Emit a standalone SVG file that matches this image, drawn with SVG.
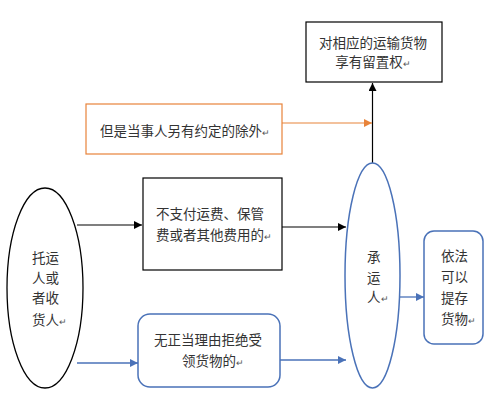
<svg xmlns="http://www.w3.org/2000/svg" width="496" height="400" viewBox="0 0 496 400">
<style>
text{font-family:"Noto Sans CJK SC","Noto Sans",sans-serif;font-size:13.5px;fill:#333}
.pm{font-size:9px;fill:#555}
.blk{fill:#fff;stroke:#000;stroke-width:1.2}
.blu{fill:#fff;stroke:#4A72B8;stroke-width:1.5}
.org{fill:#fff;stroke:#E8833A;stroke-width:1.2}
.lk{stroke:#000;stroke-width:1.2;fill:none}
.lb{stroke:#4A72B8;stroke-width:1.3;fill:none}
.lo{stroke:#E8833A;stroke-width:1.2;fill:none}
</style>
<defs>
<marker id="ak" markerWidth="8" markerHeight="8" refX="8" refY="4" orient="auto" markerUnits="userSpaceOnUse"><path d="M0,0L8,4L0,8z" fill="#000"/></marker>
<marker id="ab" markerWidth="8" markerHeight="8" refX="8" refY="4" orient="auto" markerUnits="userSpaceOnUse"><path d="M0,0L8,4L0,8z" fill="#4A72B8"/></marker>
<marker id="ao" markerWidth="8" markerHeight="8" refX="8" refY="4" orient="auto" markerUnits="userSpaceOnUse"><path d="M0,0L8,4L0,8z" fill="#E8833A"/></marker>
</defs>
<rect width="496" height="400" fill="#fff"/>
<g id="connectors">
<line class="lk" x1="372.5" y1="163" x2="372.5" y2="83" marker-end="url(#ak)"/>
<line class="lo" x1="282" y1="123" x2="372" y2="123" marker-end="url(#ao)"/>
<line class="lk" x1="77" y1="225" x2="142" y2="225" marker-end="url(#ak)"/>
<line class="lk" x1="282" y1="227" x2="346" y2="227" marker-end="url(#ak)"/>
<line class="lb" x1="77" y1="363" x2="138" y2="363" marker-end="url(#ab)"/>
<line class="lb" x1="280" y1="360" x2="346" y2="360" marker-end="url(#ab)"/>
<line class="lb" x1="400" y1="297" x2="424" y2="297" marker-end="url(#ab)"/>
</g>
<g id="retain">
<rect class="blk" x="306" y="22" width="136" height="60"/>
<text x="373" y="48" text-anchor="middle" font-size="13">对相应的运输货物</text>
<text x="373" y="67" text-anchor="middle" font-size="13">享有留置权<tspan class="pm">↵</tspan></text>
</g>
<g id="exception">
<rect class="org" x="86" y="104" width="196" height="50"/>
<text x="100" y="135.5">但是当事人另有约定的除外<tspan class="pm">↵</tspan></text>
</g>
<g id="shipper">
<ellipse cx="45" cy="288" rx="38" ry="100" fill="#fff" stroke="#000" stroke-width="1.3"/>
<text x="32" y="263">托运</text>
<text x="32" y="283">人或</text>
<text x="32" y="303">者收</text>
<text x="32" y="325">货人<tspan class="pm">↵</tspan></text>
</g>
<g id="nopay">
<rect class="blk" x="143" y="178" width="139" height="92"/>
<text x="156" y="219">不支付运费、保管</text>
<text x="156" y="240">费或者其他费用的<tspan class="pm">↵</tspan></text>
</g>
<g id="refuse">
<rect class="blu" x="138" y="314" width="142" height="73" rx="12"/>
<text x="154" y="345">无正当理由拒绝受</text>
<text x="182" y="366">领货物的<tspan class="pm">↵</tspan></text>
</g>
<g id="carrier">
<ellipse class="blu" cx="372.5" cy="275.5" rx="27.5" ry="112.5"/>
<text x="367" y="262">承</text>
<text x="367" y="283">运</text>
<text x="367" y="302">人<tspan class="pm">↵</tspan></text>
</g>
<g id="deposit">
<rect class="blu" x="424" y="231" width="59" height="113" rx="10"/>
<text x="441" y="261">依法</text>
<text x="441" y="282">可以</text>
<text x="441" y="303">提存</text>
<text x="441" y="324">货物<tspan class="pm">↵</tspan></text>
</g>
</svg>
